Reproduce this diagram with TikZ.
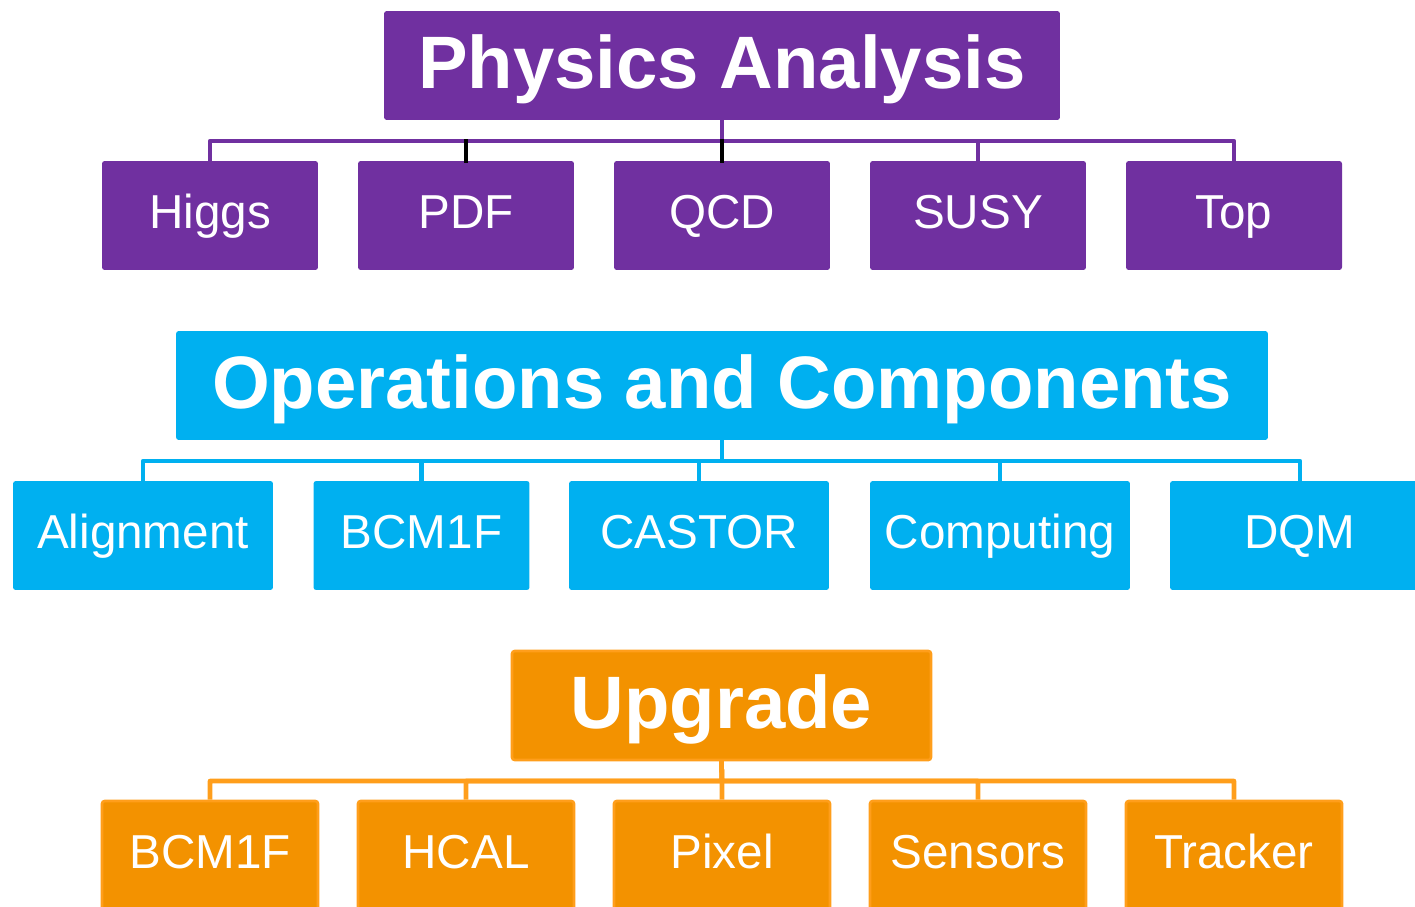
\documentclass[tikz,border=0pt]{standalone}
\usepackage{fontspec}
\setmainfont{Liberation Sans}
\definecolor{papurple}{HTML}{7030A0}
\definecolor{ocblue}{HTML}{00B0F0}
\definecolor{uporange}{HTML}{F39200}
\definecolor{upedge}{HTML}{FF9E1B}
\tikzset{
  head/.style={text=white,inner sep=0pt,font=\bfseries\fontsize{42.3}{46}\selectfont,text height=33.8pt,text depth=7.2pt,minimum height=2.18cm,rounded corners=1.5pt},
  leaf/.style={text=white,inner sep=0pt,font=\fontsize{27.1}{30}\selectfont,text height=20.3pt,text depth=5.4pt,minimum height=2.18cm,minimum width=4.32cm,rounded corners=1.5pt},
  wide/.style={minimum width=5.2cm},
  branch/.style={line width=2.6pt,line join=round},
}
\begin{document}
\begin{tikzpicture}[x=0.02cm,y=-0.02cm]
\useasboundingbox (0,0) rectangle (1415,906);
\node[head,fill=papurple,minimum width=13.52cm](pa) at (722,65.5){Physics Analysis};
\node[leaf,fill=papurple](higgs) at (210,215.5){Higgs};
\node[leaf,fill=papurple](pdf) at (466,215.5){PDF};
\node[leaf,fill=papurple](qcd) at (722,215.5){QCD};
\node[leaf,fill=papurple](susy) at (978,215.5){SUSY};
\node[leaf,fill=papurple](top) at (1234,215.5){Top};
\coordinate (pabus) at (722,141);
\foreach \n in {higgs,pdf,qcd,susy,top}
  \draw[branch,papurple] (pa.south) -- (pabus) -| (\n.north);
\draw[branch,black,line cap=rect] (pdf.north |- pabus) -- (pdf.north);
\draw[branch,black,line cap=rect] (qcd.north |- pabus) -- (qcd.north);

\node[head,fill=ocblue,minimum width=21.84cm](oc) at (722,385.5){Operations and Components};
\node[leaf,wide,fill=ocblue](align) at (143,535.5){Alignment};
\node[leaf,fill=ocblue](bcmo) at (421.5,535.5){BCM1F};
\node[leaf,wide,fill=ocblue](castor) at (699,535.5){CASTOR};
\node[leaf,wide,fill=ocblue](comp) at (1000,535.5){Computing};
\node[leaf,wide,fill=ocblue](dqm) at (1300,535.5){DQM};
\coordinate (ocbus) at (722,461);
\foreach \n in {align,bcmo,castor,comp,dqm}
  \draw[branch,ocblue] (oc.south) -- (ocbus) -| (\n.north);

\node[head,fill=uporange,draw=upedge,line width=1.5pt,minimum width=8.38cm](up) at (721.5,705.5){Upgrade};
\node[leaf,fill=uporange,draw=upedge,line width=1.5pt](bcmu) at (210,855.5){BCM1F};
\node[leaf,fill=uporange,draw=upedge,line width=1.5pt](hcal) at (466,855.5){HCAL};
\node[leaf,fill=uporange,draw=upedge,line width=1.5pt](pixel) at (722,855.5){Pixel};
\node[leaf,fill=uporange,draw=upedge,line width=1.5pt](sens) at (978,855.5){Sensors};
\node[leaf,fill=uporange,draw=upedge,line width=1.5pt](track) at (1234,855.5){Tracker};
\coordinate (upbus) at (722,781);
\foreach \n in {bcmu,hcal,pixel,sens,track}
  \draw[branch,upedge] (up.south) -- (upbus) -| (\n.north);
\end{tikzpicture}
\end{document}
